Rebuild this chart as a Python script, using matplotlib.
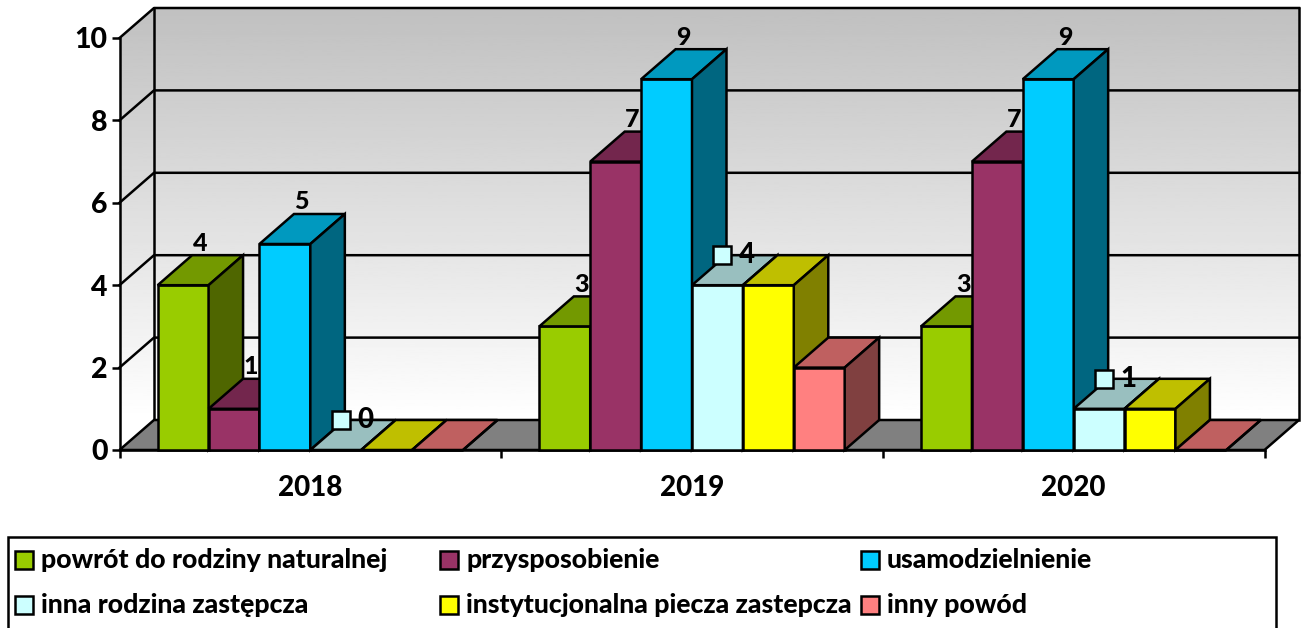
import numpy as np
import matplotlib
matplotlib.use('Agg')
import matplotlib.pyplot as plt
from matplotlib.patches import Polygon, Rectangle

plt.rcParams['font.family'] = ['Lato', 'DejaVu Sans']
plt.rcParams['font.weight'] = 'black'

years = ['2018', '2019', '2020']
series_names = ['powrót do rodziny naturalnej', 'przysposobienie', 'usamodzielnienie',
                'inna rodzina zastępcza', 'instytucjonalna piecza zastepcza', 'inny powód']
powrot = [4, 3, 3]
przysposobienie = [1, 7, 7]
usamodzielnienie = [5, 9, 9]
inna_rodzina = [0, 4, 1]
instytucjonalna = [0, 4, 1]
inny_powod = [0, 2, 0]
all_values = [powrot, przysposobienie, usamodzielnienie, inna_rodzina, instytucjonalna, inny_powod]

front_colors = ['#99CC00', '#993366', '#00CCFF', '#CCFFFF', '#FFFF00', '#FF8080']
top_colors = ['#739900', '#73264D', '#0099BF', '#99BFBF', '#BFBF00', '#BF6060']
side_colors = ['#4F6600', '#4D1A33', '#006680', '#668080', '#808000', '#804040']

W, H = 1305, 628
fig = plt.figure(figsize=(W / 100, H / 100), dpi=100)
ax = fig.add_axes([119.5 / W, 1 - 450 / H, 1145 / W, 412 / H])
ax.set_xlim(0, 3)
ax.set_ylim(0, 10)
ax.patch.set_visible(False)

# depth of the fake 3d box, in data units
dx = 34.5 / (1145 / 3)
dy = 30 / 41.2
LW = 1.8

# walls
wall_shape = Polygon([(0, 0), (dx, dy), (3 + dx, dy), (3 + dx, 10 + dy), (dx, 10 + dy), (0, 10)],
                     transform=ax.transData)
grad = np.linspace(0.753, 1, 256).reshape(-1, 1)
im = ax.imshow(grad, cmap='gray', vmin=0, vmax=1, aspect='auto', origin='upper',
               extent=(0, 3 + dx, dy, 10 + dy), zorder=1)
im.set_clip_box(fig.bbox)
im.set_clip_path(wall_shape)
ax.set_xlim(0, 3)
ax.set_ylim(0, 10)

for v in range(2, 11, 2):
    ax.plot([0, dx, 3 + dx], [v, v + dy, v + dy], color='black', lw=LW, clip_on=False, zorder=1.5)
ax.plot([dx, dx], [dy, 10 + dy], color='black', lw=LW, clip_on=False, zorder=1.5)
ax.plot([3 + dx, 3 + dx], [dy, 10 + dy], color='black', lw=LW, clip_on=False, zorder=1.5)

# floor
ax.add_patch(Polygon([(0, 0), (3, 0), (3 + dx, dy), (dx, dy)], facecolor='#808080',
                     edgecolor='black', lw=LW, clip_on=False, zorder=2))

# bars, left to right so the next one covers the side of the previous
bw = 0.8 / 6
z = 3
for i in range(len(years)):
    for j, vals in enumerate(all_values):
        v = vals[i]
        x0 = i + 0.1 + j * bw
        x1 = x0 + bw
        ax.add_patch(Polygon([(x0, 0), (x1, 0), (x1, v), (x0, v)], facecolor=front_colors[j],
                             edgecolor='black', lw=LW, joinstyle='miter', clip_on=False, zorder=z))
        ax.add_patch(Polygon([(x0, v), (x1, v), (x1 + dx, v + dy), (x0 + dx, v + dy)],
                             facecolor=top_colors[j], edgecolor='black', lw=LW, joinstyle='miter',
                             clip_on=False, zorder=z))
        ax.add_patch(Polygon([(x1, 0), (x1 + dx, dy), (x1 + dx, v + dy), (x1, v)],
                             facecolor=side_colors[j], edgecolor='black', lw=LW, joinstyle='miter',
                             clip_on=False, zorder=z))
        z += 0.01

# data labels
for i in range(len(years)):
    for j in range(3):
        v = all_values[j][i]
        xc = i + 0.1 + (j + 0.5) * bw + dx / 2
        ax.annotate(str(v), (xc, v + dy), xytext=(-0.5, 12), textcoords='offset pixels',
                    ha='center', va='center', fontsize=18, color='black',
                    annotation_clip=False, zorder=10)
    # this series has the legend key next to the label
    v = inna_rodzina[i]
    xc = i + 0.1 + 3.5 * bw + dx / 2
    ax.annotate(str(v), (xc, v + dy), xytext=(12.5, 0), textcoords='offset pixels',
                ha='center', va='center', fontsize=20, color='black',
                annotation_clip=False, zorder=10)
    ax.plot([xc - 12.5 / (1145 / 3)], [v + dy], marker='s', ms=13, mfc=front_colors[3], mec='black',
            mew=LW, clip_on=False, zorder=10)

# axes
ax.spines['top'].set_visible(False)
ax.spines['right'].set_visible(False)
ax.spines['left'].set_linewidth(LW)
ax.spines['bottom'].set_linewidth(LW)
ax.spines['left'].set_zorder(2.5)
ax.spines['bottom'].set_zorder(2.5)
ax.set_yticks(range(0, 11, 2))
ax.tick_params(axis='y', length=5.5, width=LW, pad=3, labelsize=20.5)
ax.set_xticks([0, 1, 2, 3])
ax.set_xticklabels([])
ax.tick_params(axis='x', which='major', length=6, width=LW)
ax.set_xticks([0.5, 1.5, 2.5], minor=True)
ax.set_xticklabels(years, minor=True)
ax.tick_params(axis='x', which='minor', length=0, pad=18, labelsize=20)


# legend box, in figure pixels
def px(x, y):
    return x / W, 1 - y / H


fig.add_artist(Rectangle(px(8, 640), 1268 / W, 103 / H, facecolor='white', edgecolor='black', lw=LW,
                         transform=fig.transFigure))
col_x = [15, 440, 861]
row_y = [560, 605]
for k, name in enumerate(series_names):
    x = col_x[k % 3]
    y = row_y[k // 3]
    fig.add_artist(Rectangle(px(x, y + 9), 18 / W, 18 / H, facecolor=front_colors[k], edgecolor='black',
                             lw=LW, transform=fig.transFigure))
    fx, fy = px(x + 26, y)
    fig.text(fx, fy, name, fontsize=19.2, ha='left', va='center', color='black')

fig.savefig('out.png', dpi=100)
